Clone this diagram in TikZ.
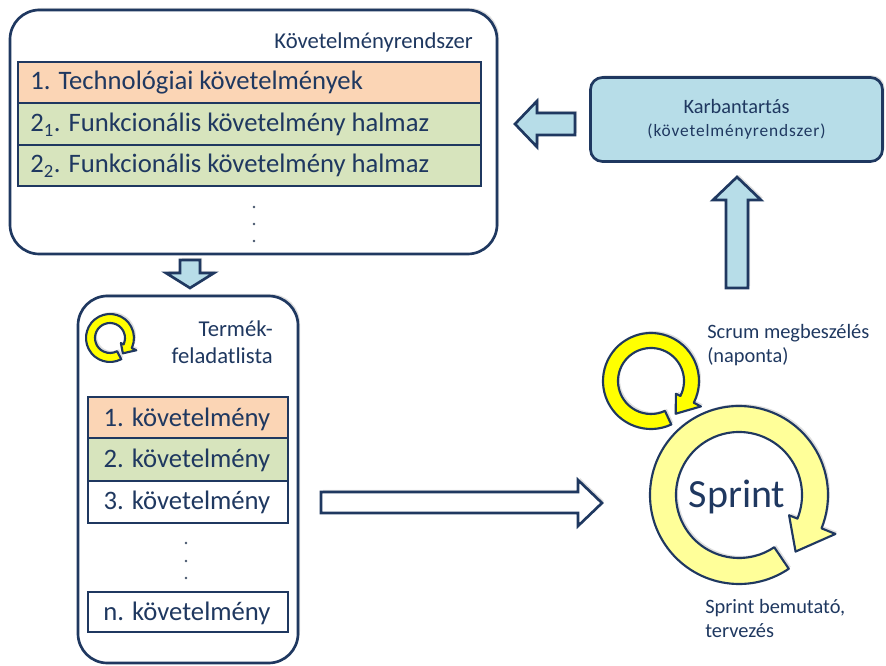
\documentclass[tikz,border=0pt]{standalone}
\usepackage{fontspec}
\setmainfont{Carlito}
\usepackage{xcolor}
\usepackage{tikz}
\usetikzlibrary{shadows}

\definecolor{navy}{RGB}{31,56,96}
\definecolor{techfill}{RGB}{251,213,181}
\definecolor{funcfill}{RGB}{215,228,189}
\definecolor{maintfill}{RGB}{183,221,232}
\definecolor{sprintfill}{RGB}{255,255,153}
\definecolor{scrumfill}{RGB}{255,255,0}

\tikzset{
  softshadow/.style={drop shadow={shadow xshift=1.5pt,shadow yshift=1.5pt,opacity=0.25}},
  panel/.style={draw=navy,line width=2pt,fill=white,rounded corners=22pt,softshadow},
  reqrow/.style={draw=navy,line width=2pt},
  rowtext/.style={inner sep=0.75pt,text=navy,font=\fontsize{20}{24}\selectfont},
  paneltext/.style={inner sep=0.75pt,text=navy,font=\fontsize{17}{20.25}\selectfont},
  labeltext/.style={inner sep=0.75pt,text=navy,font=\fontsize{15.3}{18}\selectfont},
  maintbox/.style={draw=navy,line width=2pt,fill=maintfill,rounded corners=9pt,softshadow,align=center,text=navy},
  blockarrow/.style={draw=navy,line width=2pt,line join=miter,fill=maintfill,softshadow},
  ringline/.style={draw=navy,line width=1.6pt,line join=round,softshadow},
  dotmark/.style={fill=navy!60!gray}
}

% circular arrow: centre, inner r, outer r, tail angle, head base angle, head inner r, head outer r, tip, style
\newcommand{\ringarrow}[9]{%
  \begin{scope}[shift={(#1)}]
    \draw [#9] (#4:#3) arc[start angle=#4,end angle=#5,radius=#3] -- (#5:#7) -- (#8) -- (#5:#6) -- (#5:#2) arc[start angle=#5,end angle=#4,radius=#2] -- cycle;
  \end{scope}}

\begin{document}
\begin{tikzpicture}[x=0.75pt,y=0.75pt,yscale=-1,xscale=1]
\useasboundingbox (0,0) rectangle (886,666);

%Shape: requirement system panel
\draw [panel] (10,10) rectangle (497,254);
% Text Node
\node (reqtitle) [paneltext,anchor=base east] at (474,49) {Követelményrendszer};
%Shape: requirement rows
\draw [reqrow,fill=techfill] (18,62) rectangle (481,103);
\draw [reqrow,fill=funcfill] (18,103) rectangle (481,145);
\draw [reqrow,fill=funcfill] (18,145) rectangle (481,186);
% Text Node
\node (techreq) [rowtext,anchor=base west] at (29,90) {1. Technológiai követelmények};
% Text Node
\node (funcone) [rowtext,anchor=base west] at (29,132) {2\textsubscript{1}. Funkcionális követelmény halmaz};
% Text Node
\node (functwo) [rowtext,anchor=base west] at (29,173) {2\textsubscript{2}. Funkcionális követelmény halmaz};
\foreach \y in {207,224,241} \fill [dotmark] (254,\y) circle (1.4);

%Shape: down arrow
\draw [blockarrow] (180,260) -- (200,260) -- (200,273) -- (214,273) -- (190,288) -- (166,273) -- (180,273) -- cycle;

%Shape: product backlog panel
\draw [panel] (78,296) rectangle (298,663);
\ringarrow{110,338}{15}{24}{62}{385}{12}{29}{410:20}{ringline,fill=scrumfill}
% Text Node
\node (backlogtitle) [paneltext,anchor=north east,align=right] at (274,319) {Termék-\\feladatlista};
%Shape: backlog rows
\draw [reqrow,fill=techfill] (88,397) rectangle (288,438);
\draw [reqrow,fill=funcfill] (88,438) rectangle (288,481);
\draw [reqrow,fill=white] (88,481) rectangle (288,523);
\draw [reqrow,fill=white] (88,592) rectangle (288,632);
% Text Node
\node (itemone) [rowtext,anchor=base] at (187,427) {1. követelmény};
% Text Node
\node (itemtwo) [rowtext,anchor=base] at (187,468) {2. követelmény};
% Text Node
\node (itemthree) [rowtext,anchor=base] at (187,510) {3. követelmény};
% Text Node
\node (itemn) [rowtext,anchor=base] at (187,620) {n. követelmény};
\foreach \y in {543,561,578} \fill [dotmark] (186,\y) circle (1.4);

%Shape: right arrow
\draw [blockarrow,fill=white] (321,492) -- (578,492) -- (578,480) -- (602,503) -- (578,526) -- (578,513) -- (321,513) -- cycle;

%Shape: maintenance box
\node (maint) [maintbox,minimum width=219pt,minimum height=63pt] at (736.5,119.5) {{\fontsize{15.3}{18}\selectfont Karbantartás}\\[5pt]{\fontsize{13}{15}\selectfont\addfontfeature{LetterSpace=5}(követelményrendszer)}};
%Shape: left arrow
\draw [blockarrow] (575,113) -- (537,113) -- (537,101) -- (515,124) -- (537,147) -- (537,135) -- (575,135) -- cycle;
%Shape: up arrow
\draw [blockarrow] (726,288) -- (726,200) -- (713,200) -- (737,177) -- (761,200) -- (748,200) -- (748,288) -- cycle;

%Shape: sprint cycle
\ringarrow{739,495}{63}{89}{56}{382}{54}{104}{405:80}{ringline,fill=sprintfill}
%Shape: daily scrum cycle
\ringarrow{651,381}{33}{48}{65}{387}{28}{56}{413:41}{ringline,fill=scrumfill}
% Text Node
\node (sprintlabel) [inner sep=0.75pt,text=navy,font=\fontsize{30}{36}\selectfont,anchor=base] at (737,508) {Sprint};
% Text Node
\node (scrumlabel) [labeltext,anchor=north west,align=left] at (706,323) {Scrum megbeszélés\\(naponta)};
% Text Node
\node (reviewlabel) [labeltext,anchor=north west,align=left] at (704,598.5) {Sprint bemutató,\\tervezés};

\end{tikzpicture}
\end{document}
